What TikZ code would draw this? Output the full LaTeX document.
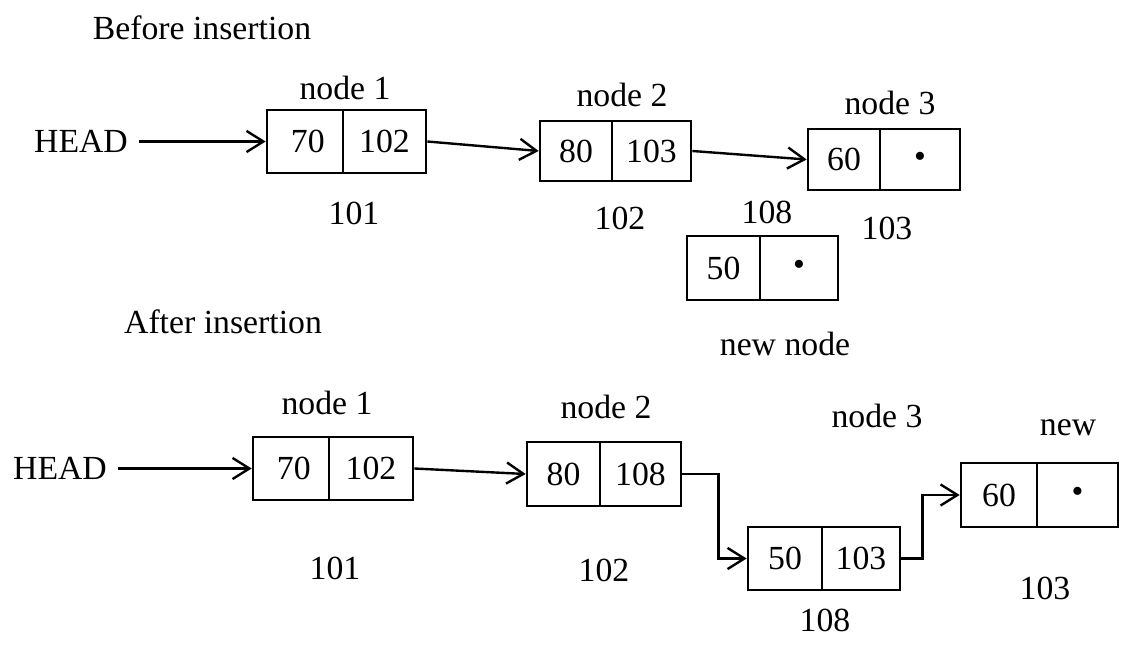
\documentclass[tikz,border=0pt]{standalone}
\usepackage{fontspec}
\setmainfont{Liberation Serif}
\usetikzlibrary{arrows.meta}

\begin{document}
\begin{tikzpicture}[
    every node/.style={font=\fontsize{24}{28}\selectfont},
    cell/.style={draw, line width=1.9pt, inner sep=0pt},
    link/.style={line width=1.7pt, -{Straight Barb[length=12pt,width=15pt,line width=1.7pt]}}
  ]

    \useasboundingbox (0,0) rectangle (28.175,16.3);

    % before insertion
    \node (tbefore) at (5.05,15.6) {Before insertion};

    \node[inner sep=8pt] (bhead) at (2.025,12.7625) {HEAD};

    \node[cell, minimum width=1.9cm, minimum height=1.575cm] (b1d) at (7.625,12.7625) {\,70};
    \node[cell, minimum width=2.075cm, minimum height=1.575cm] (b1p) at (9.6125,12.7625) {102};
    \node (b1name) at (8.625,14.1) {node 1};
    \node (b1addr) at (8.85,10.975) {101};

    \node[cell, minimum width=1.8cm, minimum height=1.5cm] (b2d) at (14.4,12.525) {80};
    \node[cell, minimum width=1.975cm, minimum height=1.5cm] (b2p) at (16.2875,12.525) {103};
    \node (b2name) at (15.55,13.925) {node 2};
    \node (b2addr) at (15.5,10.85) {102};

    \node[cell, minimum width=1.8cm, minimum height=1.525cm] (b3d) at (21.1,12.3125) {60};
    \node[cell, minimum width=2.0cm, minimum height=1.525cm] (b3p) at (23.0,12.3125) {\textbullet};
    \node (b3name) at (22.25,13.725) {node 3};
    \node (b3addr) at (22.175,10.6) {103};

    \node[cell, minimum width=1.825cm, minimum height=1.6cm] (bnd) at (18.0875,9.6) {50};
    \node[cell, minimum width=1.95cm, minimum height=1.6cm] (bnp) at (19.975,9.6) {\textbullet};
    \node (bnaddr) at (19.175,11.0) {108};
    \node (bnname) at (19.625,7.7) {new node};

    \draw[link] (bhead.east) -- (b1d.west);
    \draw[link] (b1p.east) -- (b2d.west);
    \draw[link] (b2p.east) -- (b3d.west);

    % after insertion
    \node (tafter) at (5.575,8.25) {After insertion};

    \node[inner sep=8pt] (ahead) at (1.5,4.5875) {HEAD};

    \node[cell, minimum width=1.9cm, minimum height=1.575cm] (a1d) at (7.275,4.5875) {\,70};
    \node[cell, minimum width=2.1cm, minimum height=1.575cm] (a1p) at (9.275,4.5875) {102};
    \node (a1name) at (8.175,6.225) {node 1};
    \node (a1addr) at (8.375,2.1) {101};

    \node[cell, minimum width=1.825cm, minimum height=1.6cm] (a2d) at (14.0875,4.45) {80};
    \node[cell, minimum width=2.025cm, minimum height=1.6cm] (a2p) at (16.0125,4.45) {108};
    \node (a2name) at (15.15,6.125) {node 2};
    \node (a2addr) at (15.1,2.05) {102};

    \node[cell, minimum width=1.85cm, minimum height=1.575cm] (a4d) at (19.625,2.3375) {50};
    \node[cell, minimum width=1.95cm, minimum height=1.575cm] (a4p) at (21.525,2.3375) {103};
    \node (a4addr) at (20.625,0.8) {108};
    \node (a4name) at (21.925,5.9) {node 3};

    \node[cell, minimum width=1.9cm, minimum height=1.6cm] (a3d) at (24.975,3.925) {60};
    \node[cell, minimum width=2.025cm, minimum height=1.6cm] (a3p) at (26.9375,3.925) {\textbullet};
    \node (a3name) at (26.7,5.6) {new};
    \node (a3addr) at (26.125,1.6) {103};

    \draw[link] (ahead.east) -- (a1d.west);
    \draw[link] (a1p.east) -- (a2d.west);
    \draw[link] (a2p.east) -- ++(0.9,0) |- (a4d.west);
    \draw[link] (a4p.east) -- ++(0.525,0) |- (a3d.west);

\end{tikzpicture}
\end{document}
